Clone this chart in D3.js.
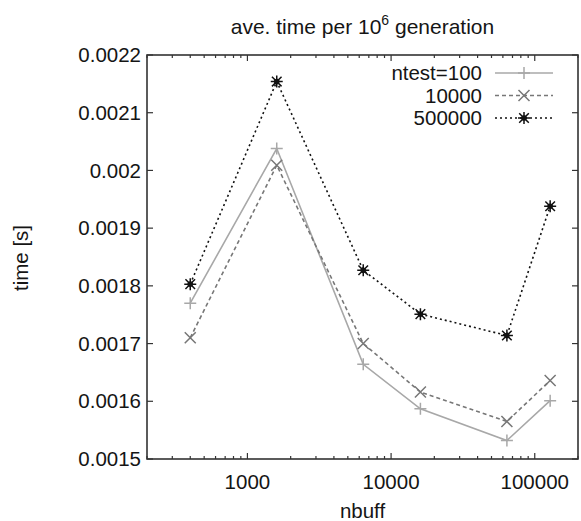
<!DOCTYPE html>
<html><head><meta charset="utf-8">
<script src="https://cdn.jsdelivr.net/npm/d3@7"></script>
<style>body{margin:0;background:#fff}svg{display:block}text{font-family:"Liberation Sans",Arial,sans-serif;fill:#151515}</style>
</head><body>
<svg id="c" width="581" height="521"></svg>
<script>
const nbuff = [400, 1600, 6400, 16000, 64000, 128000];
const seriesNames = ["ntest=100", "10000", "500000"];
const s100 = [0.00177, 0.002038, 0.001664, 0.001587, 0.001532, 0.001601];
const s10000 = [0.00171, 0.002009, 0.0017, 0.001616, 0.001565, 0.001636];
const s500000 = [0.001803, 0.002154, 0.001827, 0.001751, 0.001714, 0.001938];
const yTicks = [0.0015, 0.0016, 0.0017, 0.0018, 0.0019, 0.002, 0.0021, 0.0022];
const xTicks = [1000, 10000, 100000];

const svg = d3.select("#c");
const L = 147, R = 578, T = 55, B = 459;
const x = d3.scaleLog().domain([200, 200000]).range([L, R]);
const y = d3.scaleLinear().domain([0.0015, 0.0022]).range([B, T]);
const fs = 20.5;

const minor = [];
for (let e = 2; e <= 5; e++) for (let m = 1; m <= 9; m++) { const v = m * Math.pow(10, e); if (v >= 200 && v <= 200000) minor.push(v); }
const frame = "#333";
const g = svg.append("g");
minor.forEach(v => {
  const major = xTicks.includes(v);
  const len = major ? 6 : 3;
  g.append("line").attr("x1", x(v)).attr("x2", x(v)).attr("y1", B).attr("y2", B - len).attr("stroke", frame).attr("stroke-width", 1.2);
  g.append("line").attr("x1", x(v)).attr("x2", x(v)).attr("y1", T).attr("y2", T + len).attr("stroke", frame).attr("stroke-width", 1.2);
});
yTicks.forEach(v => {
  g.append("line").attr("x1", L).attr("x2", L + 6).attr("y1", y(v)).attr("y2", y(v)).attr("stroke", frame).attr("stroke-width", 1.2);
  g.append("line").attr("x1", R).attr("x2", R - 6).attr("y1", y(v)).attr("y2", y(v)).attr("stroke", frame).attr("stroke-width", 1.2);
});
g.append("rect").attr("x", L).attr("y", T).attr("width", R - L).attr("height", B - T).attr("fill", "none").attr("stroke", frame).attr("stroke-width", 1.6);

svg.selectAll("text.yt").data(yTicks).enter().append("text").attr("class", "yt")
  .attr("x", L - 6).attr("y", d => y(d)).attr("dy", "0.35em").attr("text-anchor", "end")
  .attr("font-size", fs).text(d => String(d));
svg.selectAll("text.xt").data(xTicks).enter().append("text").attr("class", "xt")
  .attr("x", d => x(d)).attr("y", 489).attr("text-anchor", "middle")
  .attr("font-size", fs).text(d => String(d));
svg.append("text").attr("x", (L + R) / 2).attr("y", 518).attr("text-anchor", "middle").attr("font-size", fs).text("nbuff");
svg.append("text").attr("transform", "translate(28,258) rotate(-90)").attr("text-anchor", "middle").attr("font-size", fs).text("time [s]");
const title = svg.append("text").attr("x", (L + R) / 2).attr("y", 34).attr("text-anchor", "middle").attr("font-size", 21);
title.append("tspan").text("ave. time per 10");
title.append("tspan").attr("dy", -9).attr("font-size", 14).text("6");
title.append("tspan").attr("dy", 9).text(" generation");

function plus(sel, cx, cy, col, s) {
  sel.append("path").attr("d", `M${cx - s},${cy}H${cx + s}M${cx},${cy - s}V${cy + s}`).attr("stroke", col).attr("stroke-width", 1.5).attr("fill", "none");
}
function cross(sel, cx, cy, col, s) {
  sel.append("path").attr("d", `M${cx - s},${cy - s}L${cx + s},${cy + s}M${cx - s},${cy + s}L${cx + s},${cy - s}`).attr("stroke", col).attr("stroke-width", 1.5).attr("fill", "none");
}
function star(sel, cx, cy, col, s) { plus(sel, cx, cy, col, s); cross(sel, cx, cy, col, s * 0.8);
  sel.append("circle").attr("cx", cx).attr("cy", cy).attr("r", 2.8).attr("fill", col); }

const series = [
  {name: seriesNames[0], vals: s100, col: "#a8a8a8", dash: null, mk: plus, ms: 6},
  {name: seriesNames[1], vals: s10000, col: "#777", dash: "4,3", mk: cross, ms: 5.5},
  {name: seriesNames[2], vals: s500000, col: "#111", dash: "2,3", mk: star, ms: 6}
];
const line = d3.line().x((d, i) => x(nbuff[i])).y(d => y(d));
series.forEach((s, k) => {
  svg.append("path").attr("d", line(s.vals)).attr("fill", "none").attr("stroke", s.col).attr("stroke-width", 1.6)
    .attr("stroke-dasharray", s.dash);
  const mg = svg.append("g");
  s.vals.forEach((v, i) => s.mk(mg, x(nbuff[i]), y(v), s.col, s.ms));
  const ly = 73 + k * 22.5;
  svg.append("text").attr("x", 482).attr("y", ly).attr("dy", "0.35em").attr("text-anchor", "end").attr("font-size", fs).text(s.name);
  svg.append("line").attr("x1", 495).attr("x2", 553).attr("y1", ly).attr("y2", ly).attr("stroke", s.col).attr("stroke-width", 1.6).attr("stroke-dasharray", s.dash);
  s.mk(svg.append("g"), 524, ly, s.col, s.ms);
});
</script>
</body></html>
